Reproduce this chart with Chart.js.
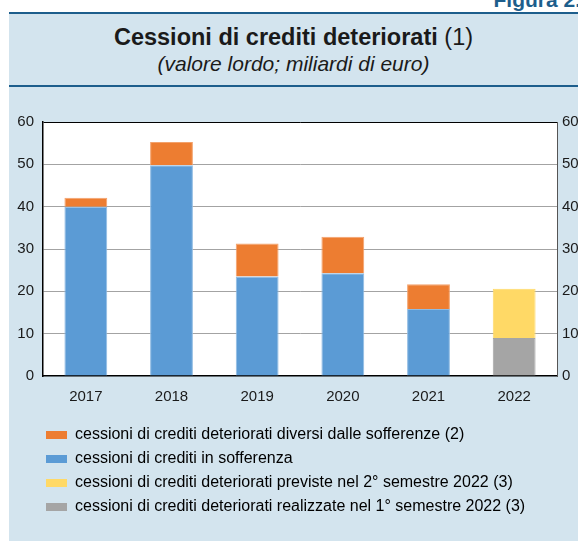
<!DOCTYPE html>
<html lang="it">
<head>
<meta charset="UTF-8">
<title>Cessioni di crediti deteriorati</title>
<style>
  /* pagina e riquadro della figura */
  html, body { margin: 0; padding: 0; background: #fff; width: 578px; height: 541px; overflow: hidden; font-family: 'Liberation Sans', Arial, Helvetica, sans-serif; }
  .fig-label { position: absolute; right: -3px; top: -11px; font-size: 21px; line-height: 21px; font-weight: bold; color: #1d5e8c; }
  .panel { position: absolute; left: 9px; top: 12px; right: 0; bottom: 0; background: #d3e4ee; border-top: 2px solid #1d5e8c; }
  .head { position: absolute; left: 9px; right: 0; top: 14px; height: 71px; border-bottom: 2px solid #1d5e8c; text-align: center; color: #1a1a1a; }
  .head h1 { margin: 0; padding-top: 10px; font-size: 23.5px; line-height: 26px; }
  .head h1 span { font-weight: normal; }
  .head p { margin: 3px 0 0; font-size: 21px; line-height: 22px; font-style: italic; }
  .chart-box { position: absolute; left: 0; top: 100px; width: 600px; height: 441px; }
</style>
</head>
<body>
  <div class="fig-label">Figura 2.</div>
  <div class="panel"></div>
  <div class="head">
    <h1>Cessioni di crediti deteriorati <span>(1)</span></h1>
    <p>(valore lordo; miliardi di euro)</p>
  </div>
  <div class="chart-box"><canvas id="chart"></canvas></div>

  <script src="https://cdn.jsdelivr.net/npm/chart.js"></script>
  <script>
    // anni e serie (miliardi di euro)
    const anni = ['2017', '2018', '2019', '2020', '2021', '2022'];
    const sofferenze = [40.0, 49.8, 23.5, 24.3, 15.8, null];
    const diversiSofferenze = [2.1, 5.5, 7.8, 8.6, 5.9, null];
    const realizzate1sem = [null, null, null, null, null, 9.0];
    const previste2sem = [null, null, null, null, null, 11.6];
    const yTicks = [0, 10, 20, 30, 40, 50, 60];

    // ordine delle voci in legenda
    const ordineLegenda = [
      'cessioni di crediti deteriorati diversi dalle sofferenze (2)',
      'cessioni di crediti in sofferenza',
      'cessioni di crediti deteriorati previste nel 2° semestre 2022 (3)',
      'cessioni di crediti deteriorati realizzate nel 1° semestre 2022 (3)'
    ];

    const font = { family: "'Liberation Sans', Arial, Helvetica, sans-serif" };

    // sfondo bianco dell'area del grafico
    const sfondoArea = {
      id: 'sfondoArea',
      beforeDraw(chart) {
        const a = chart.chartArea, ctx = chart.ctx;
        ctx.save();
        ctx.fillStyle = '#fff';
        ctx.fillRect(a.left, a.top, a.right - a.left, a.bottom - a.top);
        ctx.restore();
      }
    };

    // legenda rientrata rispetto al bordo sinistro
    const rientroLegenda = {
      id: 'rientroLegenda',
      afterLayout(chart) {
        chart.legend.left += 38;
        chart.legend.right += 38;
      }
    };

    const gridColor = c => (c.tick.value === 60 ? '#000' : (c.tick.value === 0 ? 'rgba(0,0,0,0)' : '#a3a3a3'));

    new Chart(document.getElementById('chart'), {
      type: 'bar',
      data: {
        labels: anni,
        datasets: [
          { label: ordineLegenda[1], data: sofferenze, backgroundColor: '#5b9bd5', borderColor: '#8fbbe3', borderWidth: 1 },
          { label: ordineLegenda[0], data: diversiSofferenze, backgroundColor: '#ed7d31', borderColor: '#f3a26c', borderWidth: 1 },
          { label: ordineLegenda[3], data: realizzate1sem, backgroundColor: '#a5a5a5', borderColor: '#a5a5a5', borderWidth: 1 },
          { label: ordineLegenda[2], data: previste2sem, backgroundColor: '#ffd966', borderColor: '#ffd966', borderWidth: 1 }
        ]
      },
      options: {
        responsive: true,
        maintainAspectRatio: false,
        animation: false,
        devicePixelRatio: 1,
        datasets: { bar: { barPercentage: 0.5, categoryPercentage: 1, grouped: false } },
        layout: { padding: { left: 0, right: 0, top: 22, bottom: 16 } },
        scales: {
          x: {
            stacked: true,
            grid: { display: false, drawTicks: false },
            border: { color: '#000', width: 1.5 },
            ticks: { color: '#1a1a1a', font: { ...font, size: 15 }, padding: 12 },
            afterFit: s => { s.height = 43; }
          },
          y: {
            stacked: true,
            position: 'left',
            min: 0, max: 60,
            afterBuildTicks: s => { s.ticks = yTicks.map(v => ({ value: v })); },
            grid: { color: gridColor, drawTicks: false },
            border: { color: '#000', width: 1.5 },
            ticks: { color: '#1a1a1a', font: { ...font, size: 15 }, padding: 9 },
            afterFit: s => { s.width = 43; }
          },
          y2: {
            position: 'right',
            min: 0, max: 60,
            afterBuildTicks: s => { s.ticks = yTicks.map(v => ({ value: v })); },
            grid: { display: false, drawTicks: false },
            border: { color: '#555', width: 1 },
            ticks: { color: '#1a1a1a', font: { ...font, size: 15 }, padding: 5 },
            afterFit: s => { s.width = 43; }
          }
        },
        plugins: {
          legend: {
            position: 'bottom',
            align: 'start',
            labels: {
              boxWidth: 21,
              boxHeight: 8,
              padding: 8,
              color: '#1a1a1a',
              font: { ...font, size: 16 },
              sort: (a, b) => ordineLegenda.indexOf(a.text) - ordineLegenda.indexOf(b.text),
              generateLabels: chart => chart.data.datasets.map((d, i) => ({
                text: d.label, fillStyle: d.backgroundColor, strokeStyle: d.backgroundColor,
                lineWidth: 0, hidden: false, datasetIndex: i
              }))
            }
          },
          tooltip: { enabled: false }
        }
      },
      plugins: [sfondoArea, rientroLegenda]
    });
  </script>
</body>
</html>
